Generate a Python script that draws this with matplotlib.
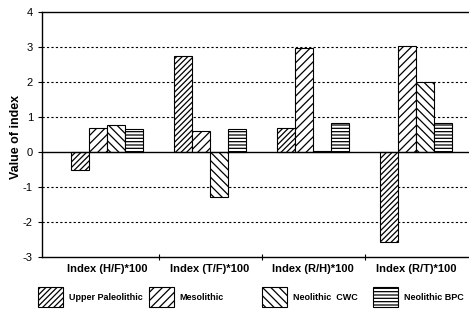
import numpy as np
import matplotlib.pyplot as plt
from matplotlib.ticker import FixedLocator, NullFormatter

plt.rcParams['font.family'] = ['Liberation Sans', 'DejaVu Sans']
plt.rcParams['hatch.linewidth'] = 0.9
plt.rcParams['axes.unicode_minus'] = False

# data
categories = ['Index (H/F)*100', 'Index (T/F)*100', 'Index (R/H)*100', 'Index (R/T)*100']
series = ['Upper Paleolithic', 'Mesolithic', 'Neolithic  CWC', 'Neolithic BPC']
upper_paleolithic = [-0.51, 2.74, 0.68, -2.56]
mesolithic = [0.69, 0.60, 2.98, 3.04]
neolithic_cwc = [0.77, -1.28, 0.04, 2.00]
neolithic_bpc = [0.66, 0.65, 0.83, 0.83]

values = [upper_paleolithic, mesolithic, neolithic_cwc, neolithic_bpc]
hatches = ['//////', '////', '\\\\\\\\', '-----']

fig = plt.figure(figsize=(4.69, 3.12), dpi=100)
ax = fig.add_axes([0.0896, 0.176, 0.93, 0.7855])

x = np.arange(len(categories))
width = 0.175
bars = []
for i, (vals, h) in enumerate(zip(values, hatches)):
    b = ax.bar(x + (i - 1.5) * width, vals, width, facecolor='white', edgecolor='black',
               hatch=h, linewidth=0.8, label=series[i])
    bars.append(b)

ax.set_xlim(-0.63, 3.6)
ax.set_ylim(-3, 4)
ax.axhline(0, color='black', linewidth=1.0)
for yv in [-2, -1, 1, 2, 3]:
    ax.axhline(yv, color='black', linewidth=0.8, linestyle=(0, (2, 2)), zorder=0)

ax.set_yticks(range(-3, 5))
ax.tick_params(axis='y', labelsize=8, length=3, width=0.8)
ax.set_ylabel('Value of index', fontsize=9, fontweight='bold')
ax.yaxis.set_label_coords(-0.046, 0.49)

ax.set_xticks(x)
ax.set_xticklabels(categories, fontsize=8, fontweight='bold')
ax.tick_params(axis='x', length=0, pad=5)
ax.xaxis.set_minor_locator(FixedLocator([0.5, 1.5, 2.5]))
ax.xaxis.set_minor_formatter(NullFormatter())
ax.tick_params(axis='x', which='minor', length=4, direction='inout', width=0.8)

ax.spines['right'].set_visible(False)
for s in ['left', 'bottom', 'top']:
    ax.spines[s].set_linewidth(1.0)

# one legend per entry, spaced as in the reference
legend_x = [30, 141, 254, 365]
for b, lab, lx in zip(bars, series, legend_x):
    leg = fig.legend([b], [lab], loc='center left', bbox_to_anchor=(lx / 469, 0.048),
                     frameon=False, handlelength=2.8, handleheight=3.0, handletextpad=0.6,
                     prop={'size': 6.5, 'weight': 'bold'})

fig.savefig('out.png', dpi=100)
